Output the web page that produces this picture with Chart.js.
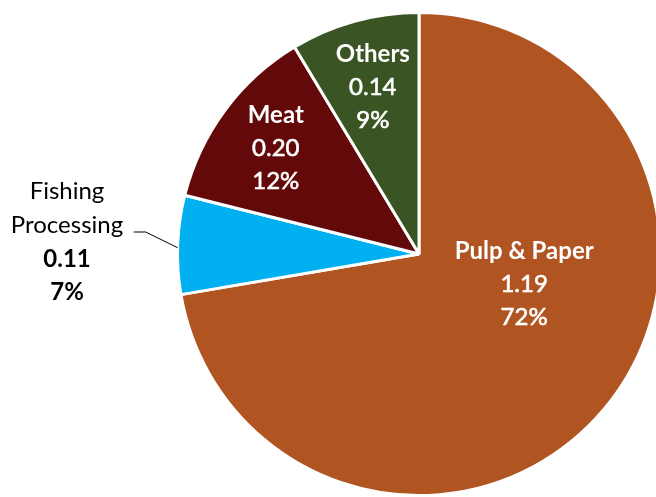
<!DOCTYPE html>
<html>
<head>
<meta charset="utf-8">
<script src="https://cdn.jsdelivr.net/npm/chart.js@4/dist/chart.umd.min.js"></script>
<style>
  html, body { margin: 0; padding: 0; background: #fff; overflow: hidden; width: 656px; height: 497px; }
  #wrap { position: absolute; left: 0; top: 0; width: 671px; height: 497px; }
</style>
</head>
<body>
<div id="wrap"><canvas id="chart" width="671" height="497"></canvas></div>
<script>
const categories = ["Pulp & Paper", "Fishing Processing", "Meat", "Others"];
const values = [1.183, 0.108, 0.204, 0.141];
const valueLabels = ["1.19", "0.11", "0.20", "0.14"];
const percentLabels = ["72%", "7%", "12%", "9%"];
const colors = ["#B05422", "#00B0F0", "#630909", "#3A5424"];

// where each label sits: fraction of radius, angle in degrees clockwise from top (null = slice middle)
const labelPlace = [
  { r: 0.453, angle: 106, inside: true },
  { r: null, angle: null, inside: false },
  { r: 0.738, angle: null, inside: true },
  { r: 0.715, angle: null, inside: true }
];

const labelPlugin = {
  id: "sliceLabels",
  afterDatasetsDraw(chart) {
    const ctx = chart.ctx;
    const arcs = chart.getDatasetMeta(0).data;
    ctx.save();
    ctx.textAlign = "center";
    ctx.textBaseline = "middle";
    arcs.forEach((arc, i) => {
      const p = labelPlace[i];
      const mid = (arc.startAngle + arc.endAngle) / 2;
      if (p.inside) {
        const a = p.angle === null ? mid : (p.angle - 90) * Math.PI / 180;
        const x = arc.x + Math.cos(a) * arc.outerRadius * p.r;
        const y = arc.y + Math.sin(a) * arc.outerRadius * p.r;
        ctx.fillStyle = "#fff";
        ctx.strokeStyle = "#fff";
        ctx.lineWidth = 0.6;
        ctx.font = "bold 24px Lato";
        ctx.fillText(categories[i], x, y - 33);
        ctx.font = "24px Lato";
        ctx.fillText(valueLabels[i], x, y);
        ctx.strokeText(valueLabels[i], x, y);
        ctx.fillText(percentLabels[i], x, y + 33);
        ctx.strokeText(percentLabels[i], x, y + 33);
      } else {
        // outside label with leader line
        const ex = arc.x + Math.cos(mid) * arc.outerRadius;
        const ey = arc.y + Math.sin(mid) * arc.outerRadius + 3;
        const tx = 67;
        const ty = arc.y - 13;
        ctx.strokeStyle = "#000";
        ctx.lineWidth = 1;
        ctx.beginPath();
        ctx.moveTo(ex, ey);
        ctx.lineTo(ex - 32, ty - 9);
        ctx.lineTo(ex - 44, ty - 9);
        ctx.stroke();
        const words = categories[i].split(" ");
        ctx.fillStyle = "#000";
        ctx.font = "24px Lato";
        ctx.fillText(words[0], tx, ty - 50);
        ctx.fillText(words[1], tx, ty - 16);
        ctx.font = "bold 24px Lato";
        ctx.fillText(valueLabels[i], tx, ty + 18);
        ctx.fillText(percentLabels[i], tx, ty + 51);
      }
    });
    ctx.restore();
  }
};

new Chart(document.getElementById("chart"), {
  type: "pie",
  data: {
    labels: categories,
    datasets: [{
      data: values,
      backgroundColor: colors,
      borderColor: "#fff",
      borderWidth: 3
    }]
  },
  options: {
    responsive: false,
    animation: false,
    layout: { padding: { left: 176, right: 9, top: 11, bottom: 0 } },
    plugins: {
      legend: { display: false },
      tooltip: { enabled: false }
    }
  },
  plugins: [labelPlugin]
});
</script>
</body>
</html>
